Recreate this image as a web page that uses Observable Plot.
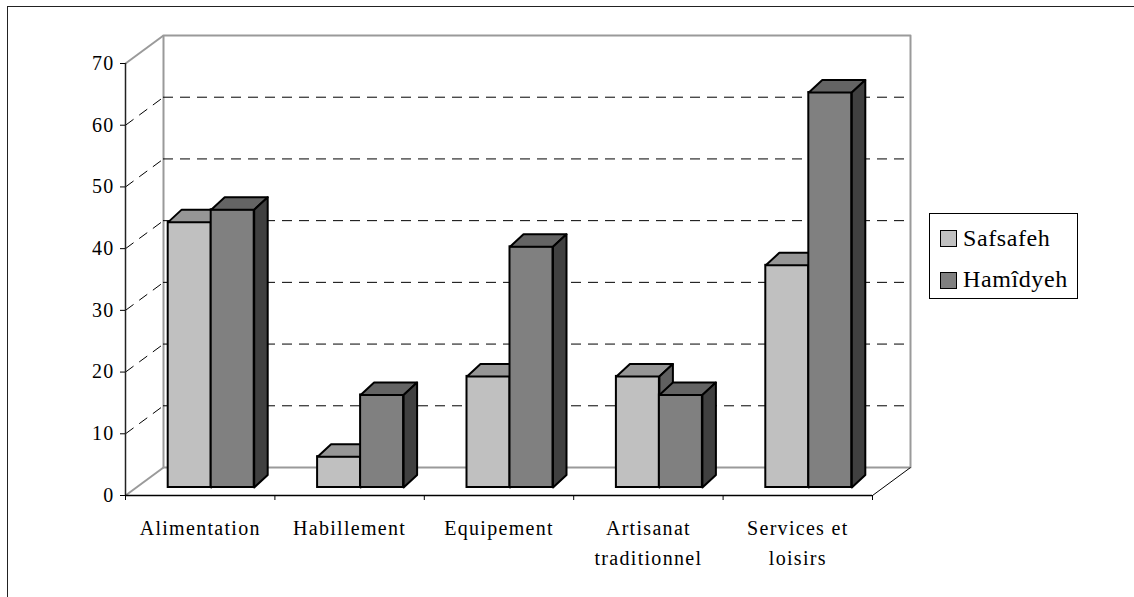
<!DOCTYPE html>
<html>
<head>
<meta charset="utf-8">
<script src="https://cdn.jsdelivr.net/npm/d3@7"></script>
<script src="https://cdn.jsdelivr.net/npm/@observablehq/plot@0.6"></script>
<style>
  html, body { margin: 0; padding: 0; background: white; }
  #wrap { position: relative; width: 1134px; height: 597px; overflow: hidden; background: white; }
  #frame { position: absolute; left: 7px; top: 6px; width: 1200px; height: 700px; border: 1.5px solid #222; box-sizing: border-box; pointer-events: none; }
  #chart { position: absolute; left: 0; top: 0; }
  #legend { position: absolute; left: 929px; top: 213px; width: 149px; height: 86px; border: 1px solid black; box-sizing: border-box; background: white;
            font-family: "Liberation Serif", "Times New Roman", serif; font-size: 24px; letter-spacing: 0.6px; }
  .sw { position: absolute; left: 10px; width: 17px; height: 17px; border: 1px solid black; box-sizing: border-box; }
  .lt { position: absolute; left: 33px; line-height: 24px; white-space: nowrap; }
</style>
</head>
<body>
<div id="wrap">
  <div id="chart"></div>
  <div id="legend"></div>
  <div id="frame"></div>
</div>
<script>
// ---- data ----
const categories = ["Alimentation", "Habillement", "Equipement", "Artisanat\ntraditionnel", "Services et\nloisirs"];
const safsafeh = [43, 5, 18, 18, 36];
const hamidyeh = [45, 15, 39, 15, 64];
const seriesNames = ["Safsafeh", "Hamîdyeh"];
const yTicks = [0, 10, 20, 30, 40, 50, 60, 70];

// ---- styling / geometry (pixels) ----
const W = 1134, H = 597;
const mL = 125, mR = 262, mT = 63, mB = 102;
const frontColors = ["#c0c0c0", "#808080"];
const topColors = ["#969696", "#646464"];
const sideColors = ["#606060", "#404040"];
const BACK_X = 38, BACK_Y = 28;     // depth of the back wall
const FRONT_X = 11, FRONT_Y = 8;    // offset of the bar front faces
const BAR_W = 43;                   // bar width
const DEP_X = 13.5, DEP_Y = 12.5;   // bar depth

const xMax = categories.length, yMax = 70;
const kx = (W - mL - mR) / xMax;
const ky = (H - mT - mB) / yMax;
const px = p => p / kx, py = p => p / ky;

// build bar faces from data
const seriesVals = [safsafeh, hamidyeh];
const fronts = [[], []], tops = [[], []], sides = [[], []];
seriesVals.forEach((vals, s) => {
  vals.forEach((v, i) => {
    const x1 = i + 0.5 + px(FRONT_X) + (s === 0 ? -px(BAR_W) : 0);
    const x2 = x1 + px(BAR_W);
    const y0 = py(FRONT_Y), y1 = v + py(FRONT_Y);
    const dx = px(DEP_X), dy = py(DEP_Y);
    fronts[s].push({x1, x2, y1: y0, y2: y1});
    const id = s + "-" + i;
    [[x1, y1], [x2, y1], [x2 + dx, y1 + dy], [x1 + dx, y1 + dy]].forEach(([x, y]) => tops[s].push({id, x, y}));
    [[x2, y0], [x2 + dx, y0 + dy], [x2 + dx, y1 + dy], [x2, y1]].forEach(([x, y]) => sides[s].push({id, x, y}));
  });
});

const bx = px(BACK_X), by = py(BACK_Y);
const gridVals = yTicks.filter(t => t > 0 && t < yMax);
const wall = [{x: bx, y: by}, {x: xMax + bx, y: by}, {x: xMax + bx, y: yMax + by}, {x: bx, y: yMax + by}];

const barMarks = [];
for (let s = 0; s < 2; s++) {
  barMarks.push(Plot.rect(fronts[s], {x1: "x1", x2: "x2", y1: "y1", y2: "y2", fill: frontColors[s], stroke: "black", strokeWidth: 2}));
  barMarks.push(Plot.line(tops[s], {x: "x", y: "y", z: "id", fill: topColors[s], stroke: "black", strokeWidth: 2, curve: "linear-closed"}));
  barMarks.push(Plot.line(sides[s], {x: "x", y: "y", z: "id", fill: sideColors[s], stroke: "black", strokeWidth: 2, curve: "linear-closed"}));
}

const chart = Plot.plot({
  width: W, height: H,
  marginLeft: mL, marginRight: mR, marginTop: mT, marginBottom: mB,
  x: {domain: [0, xMax], axis: null},
  y: {domain: [0, yMax], axis: null},
  style: {fontFamily: "'Liberation Serif', 'Times New Roman', serif", fontSize: "20px", letterSpacing: "1.3px", background: "transparent", color: "black", overflow: "visible"},
  marks: [
    // back wall
    Plot.line(wall, {x: "x", y: "y", fill: "white", stroke: "#9a9a9a", strokeWidth: 2, curve: "linear-closed"}),
    // back wall gridlines
    Plot.ruleY(gridVals, {x1: () => bx, x2: () => xMax + bx, y: d => d + by, stroke: "black", strokeWidth: 1, strokeDasharray: "10,7"}),
    // side wall dashed diagonals
    Plot.link(gridVals, {x1: () => 0, y1: d => d, x2: () => bx, y2: d => d + by, stroke: "black", strokeWidth: 1, strokeDasharray: "10,7"}),
    // side wall top & floor left edge
    Plot.link([0, yMax], {x1: () => 0, y1: d => d, x2: () => bx, y2: d => d + by, stroke: "#9a9a9a", strokeWidth: 2}),
    // floor right edge
    Plot.link([xMax], {x1: d => d, y1: () => 0, x2: d => d + bx, y2: () => by, stroke: "black", strokeWidth: 1}),
    ...barMarks,
    // axes
    Plot.ruleX([0], {stroke: "#222", strokeWidth: 1.5}),
    Plot.ruleY([0], {stroke: "black", strokeWidth: 1.5}),
    Plot.axisY(yTicks, {tickSize: 5, tickPadding: 6, label: null, fontSize: 20}),
    Plot.axisX(d3.range(0, xMax + 1), {tickSize: 5, tickFormat: () => "", label: null}),
    Plot.text(categories, {x: (d, i) => i + 0.5, y: () => 0, text: d => d, lineAnchor: "top", dy: 18, lineHeight: 1.5, fontSize: 20, fill: "black"})
  ]
});
document.getElementById("chart").appendChild(chart);

// legend
const legend = document.getElementById("legend");
seriesNames.forEach((name, s) => {
  const sw = document.createElement("div");
  sw.className = "sw";
  sw.style.top = (16 + s * 42) + "px";
  sw.style.background = frontColors[s];
  legend.appendChild(sw);
  const t = document.createElement("div");
  t.className = "lt";
  t.style.top = (12 + s * 41) + "px";
  t.textContent = name;
  legend.appendChild(t);
});
</script>
</body>
</html>
